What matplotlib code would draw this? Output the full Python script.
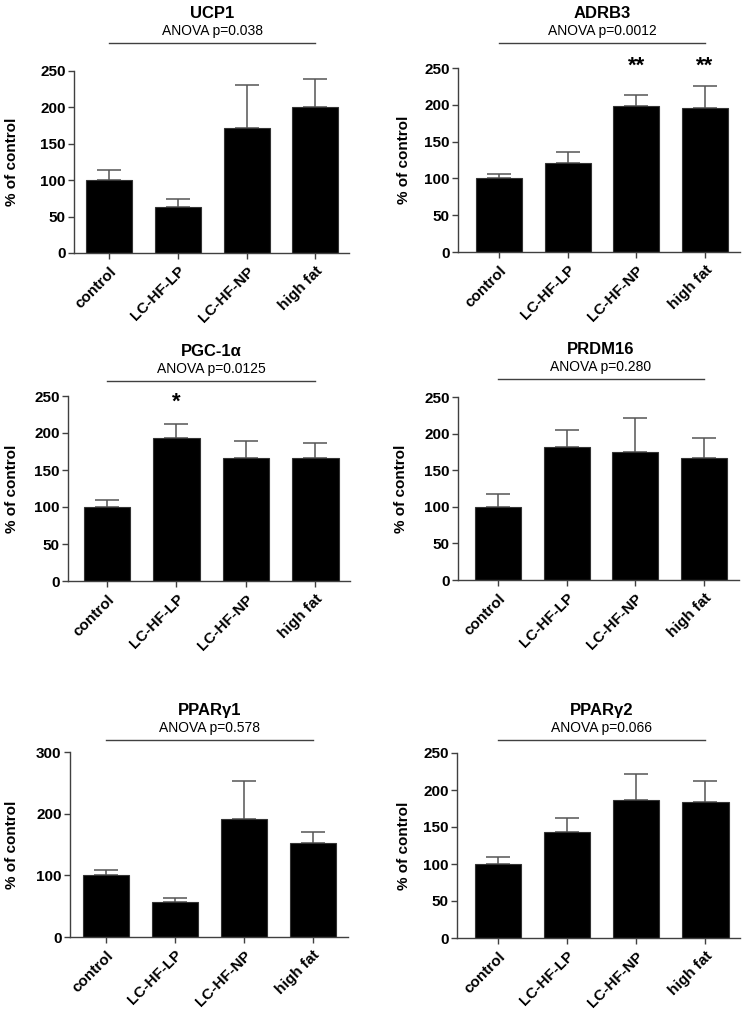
import numpy as np
import matplotlib
matplotlib.use('Agg')
import matplotlib.pyplot as plt
import matplotlib.transforms as mtransforms

plt.rcParams['font.family'] = ['Liberation Sans', 'DejaVu Sans']

groups = ['control', 'LC-HF-LP', 'LC-HF-NP', 'high fat']

genes = ['UCP1', 'ADRB3', 'PGC-1α', 'PRDM16', 'PPARγ1', 'PPARγ2']
anova = ['ANOVA p=0.038', 'ANOVA p=0.0012', 'ANOVA p=0.0125',
         'ANOVA p=0.280', 'ANOVA p=0.578', 'ANOVA p=0.066']

ucp1_mean = [100, 62.5, 172, 200]
ucp1_sem = [14, 11, 59, 38.5]
adrb3_mean = [100, 120.5, 198, 195.5]
adrb3_sem = [6, 15.5, 15.5, 29.5]
pgc_mean = [100, 192.7, 165.6, 165.6]
pgc_sem = [10, 20, 24, 21]
prdm16_mean = [100, 182, 174.5, 166]
prdm16_sem = [17, 23.5, 46.5, 28.5]
pparg1_mean = [100, 56, 192, 153]
pparg1_sem = [8, 7.5, 61.5, 18]
pparg2_mean = [100, 143, 187, 184]
pparg2_sem = [10, 18.5, 34.5, 27.5]

means = [ucp1_mean, adrb3_mean, pgc_mean, prdm16_mean, pparg1_mean, pparg2_mean]
sems = [ucp1_sem, adrb3_sem, pgc_sem, prdm16_sem, pparg1_sem, pparg2_sem]
stars = [['', '', '', ''], ['', '', '**', '**'], ['', '*', '', ''],
         ['', '', '', ''], ['', '', '', ''], ['', '', '', '']]
star_y = [0, 252, 242, 0, 0, 0]
ymax = [250, 250, 250, 250, 300, 250]
ystep = [50, 50, 50, 50, 100, 50]

W, H = 745, 1013
fig = plt.figure(figsize=(W / 100, H / 100), dpi=100)

# axes boxes in pixels: left, right, top, bottom
boxes = [(74, 349, 71, 253), (458, 740, 68, 252),
         (68, 350, 396, 581), (458, 739, 397, 580),
         (70, 348, 752, 937), (457, 740, 753, 938)]
xlims = [(-0.51, 3.49), (-0.60, 3.51), (-0.56, 3.5),
         (-0.58, 3.51), (-0.52, 3.51), (-0.59, 3.5)]
line_y = [1.154, 1.136, 1.081, 1.098, 1.065, 1.07]
ylab_x = [12, 404, 12, 401, 12, 404]

grey = '#404040'
x = np.arange(len(groups))

for i in range(6):
    l, r, t, b = boxes[i]
    ax = fig.add_axes([l / W, 1 - b / H, (r - l) / W, (b - t) / H])
    m = np.array(means[i])
    s = np.array(sems[i])
    ax.bar(x, m, width=0.67, color='black', edgecolor='#333333', linewidth=0.8, zorder=2)
    ax.errorbar(x, m, yerr=[np.zeros(4), s], fmt='none', ecolor='#555555',
                elinewidth=1.1, capsize=8.3, capthick=1.1, zorder=1)
    ax.set_xlim(*xlims[i])
    ax.set_ylim(0, ymax[i])
    ax.set_yticks(np.arange(0, ymax[i] + 1, ystep[i]))
    ax.set_xticks(x)
    ax.set_xticklabels(groups, rotation=45, ha='right', va='top',
                       rotation_mode='anchor', fontsize=11, fontweight='bold')
    for lab in ax.get_yticklabels():
        lab.set_fontsize(11)
        lab.set_fontweight('bold')
    ax.spines['top'].set_visible(False)
    ax.spines['right'].set_visible(False)
    for sp in ['left', 'bottom']:
        ax.spines[sp].set_color(grey)
        ax.spines[sp].set_linewidth(1.0)
    ax.tick_params(axis='both', direction='out', length=4, width=1.0, color=grey, pad=2)
    ax.tick_params(axis='x', pad=4)

    trans = mtransforms.blended_transform_factory(ax.transData, ax.transAxes)
    ax.plot([0, 3], [line_y[i], line_y[i]], color=grey, lw=1.0,
            transform=trans, clip_on=False)
    ax.text(1.5, line_y[i] + 0.025, anova[i], transform=trans, ha='center',
            va='bottom', fontsize=10)
    ax.text(1.5, line_y[i] + 0.12, genes[i], transform=trans, ha='center',
            va='bottom', fontsize=12, fontweight='bold')
    for j in range(4):
        if stars[i][j]:
            ax.text(x[j], star_y[i], stars[i][j], ha='center', va='center',
                    fontsize=16, fontweight='bold', clip_on=False)

    fig.text(ylab_x[i] / W, 1 - (t + b) / 2 / H, '% of control', rotation=90,
             ha='center', va='center', fontsize=11, fontweight='bold')

fig.savefig('out.png', dpi=100)
